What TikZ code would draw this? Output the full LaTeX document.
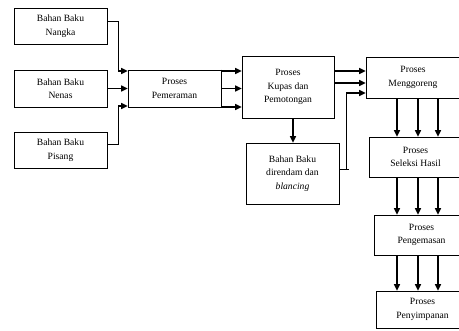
\documentclass[tikz,border=0pt]{standalone}
\usepackage{fontspec}
\setmainfont{Liberation Serif}
\usetikzlibrary{arrows.meta}
\begin{document}
\begin{tikzpicture}[x=1pt,y=-1pt,
  box/.style={draw,line width=0.7pt,inner sep=0pt,align=center,
    font=\fontsize{9.6}{13.5}\selectfont},
  arr/.style={line width=1.4pt,-{Triangle[length=6.5pt,width=6pt]}},
  thinline/.style={line width=0.7pt}]
\useasboundingbox (0,0) rectangle (459,331);
\node[box,minimum width=93pt,minimum height=36pt] (nangka) at (60.5,26) {Bahan Baku\\Nangka};
\node[box,minimum width=93pt,minimum height=37pt] (nenas) at (60.5,88.5) {Bahan Baku\\Nenas};
\node[box,minimum width=93pt,minimum height=36pt] (pisang) at (60.5,150) {Bahan Baku\\Pisang};
\node[box,minimum width=93pt,minimum height=37pt] (pem) at (174.5,88.5) {Proses\\Pemeraman};
\node[box,minimum width=92pt,minimum height=62pt] (kupas) at (288,87) {Proses\\Kupas dan\\Pemotongan};
\node[box,minimum width=93pt,minimum height=61pt] (dir) at (292.5,173.5) {Bahan Baku\\direndam dan\\\textit{blancing}};
\node[box,minimum width=94pt,minimum height=41pt] (mg) at (413,77.5) {Proses\\Menggoreng};
\node[box,minimum width=93pt,minimum height=40pt] (sh) at (415.5,157) {Proses\\Seleksi Hasil};
\node[box,minimum width=95pt,minimum height=40pt] (pk) at (421.5,235) {Proses\\Pengemasan};
\node[box,minimum width=93pt,minimum height=37pt] (ps) at (422.5,309.5) {Proses\\Penyimpanan};
% junctions
\coordinate (j1) at (118,71);
\coordinate (j2) at (118,106);
\coordinate (j3) at (346,93);
\coordinate (j4) at (349,169);
% inputs to Pemeraman
\draw[thinline] (nangka.east |- 0,21) -| (j1);
\draw[arr] (j1) -- (pem.west |- j1);
\draw[arr] (nenas.east) -- (pem.west);
\draw[thinline] (pisang.east |- 0,144) -| (j2);
\draw[arr] (j2) -- (pem.west |- j2);
% Pemeraman to Kupas
\draw[thinline] (pem.north east) -- (pem.south east);
\draw[arr] (pem.east |- 0,71) -- (kupas.west |- 0,71);
\draw[arr] (pem.east) -- (kupas.west |- pem.east);
\draw[arr] (pem.east |- 0,107) -- (kupas.west |- 0,107);
% Kupas to Menggoreng
\draw[arr] (kupas.east |- 0,71) -- (mg.west |- 0,71);
\draw[arr] (kupas.east |- 0,83) -- (mg.west |- 0,83);
% Kupas to direndam
\draw[arr] (kupas.south -| 293,0) -- (dir.north -| 293,0);
% direndam back to Menggoreng
\draw[thinline] (dir.east |- j4) -- (j4);
\draw[thinline] (j3 |- j4) -- (j3);
\draw[arr] (j3) -- (mg.west |- j3);
% vertical flow
\foreach \x in {397,418,438}{
  \draw[arr] (mg.south -| \x,0) -- (sh.north -| \x,0);
  \draw[arr] (sh.south -| \x,0) -- (pk.north -| \x,0);
  \draw[arr] (pk.south -| \x,0) -- (ps.north -| \x,0);
}
\end{tikzpicture}
\end{document}
